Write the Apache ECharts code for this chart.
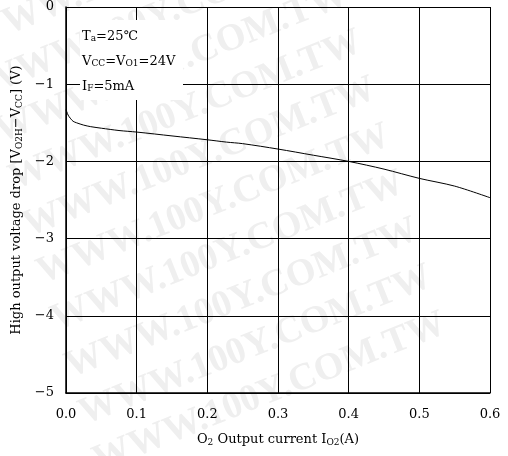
<!DOCTYPE html>
<html><head><meta charset="utf-8">
<script src="https://cdn.jsdelivr.net/npm/echarts@6/dist/echarts.min.js"></script>
<style>html,body{margin:0;padding:0;background:#fff}#c{width:508px;height:456px}</style>
</head><body><div id="c"></div>
<script>
const currentA = [0, 0.003, 0.006, 0.01, 0.015, 0.025, 0.035, 0.05, 0.075, 0.1, 0.15, 0.2, 0.227, 0.25, 0.3, 0.35, 0.4, 0.45, 0.5, 0.55, 0.6];
const dropV   = [-1.33, -1.40, -1.44, -1.48, -1.50, -1.53, -1.55, -1.57, -1.60, -1.62, -1.67, -1.72, -1.75, -1.77, -1.84, -1.92, -2.00, -2.10, -2.22, -2.32, -2.47];
const xTicks = ['0.0','0.1','0.2','0.3','0.4','0.5','0.6'];
const yTicks = ['−5','−4','−3','−2','−1','0'];
const notes = ['{n|T}{s|a}{n|=25℃}', '{n|V}{s|CC}{n|=V}{s|O1}{n|=24V}', '{n|I}{s|F}{n|=5mA}'];
const watermark = 'WWW.100Y.COM.TW';

const F = 'DejaVu Serif';
const rich = {
  n: {fontFamily: F, fontSize: 13, color: '#000'},
  s: {fontFamily: F, fontSize: 9, color: '#000', verticalAlign: 'bottom', padding: [5, 0, 0, 0]}
};
const wm = [];
for (let k = -6; k <= 3; k++) {
  wm.push({type: 'text', x: 60 + 14 * k, y: 339 + 47 * k, rotation: 0.38, z: -10, silent: true,
    style: {text: watermark, fontFamily: 'Liberation Serif', fontWeight: 'bold', fontSize: 38,
      fill: '#efefef', textAlign: 'left', textVerticalAlign: 'bottom'}});
}
const chart = echarts.init(document.getElementById('c'), null, {renderer: 'canvas'});
chart.setOption({
  animation: false,
  backgroundColor: '#fff',
  grid: {left: 66, right: 18, top: 7, bottom: 63},
  xAxis: {
    type: 'value', min: 0, max: 0.6, interval: 0.1,
    axisLine: {show: true, onZero: false, lineStyle: {color: '#000', width: 1.5}},
    axisTick: {show: false},
    splitLine: {show: true, lineStyle: {color: '#000', width: 1}},
    axisLabel: {fontFamily: F, fontSize: 13, color: '#000', margin: 15,
      formatter: v => xTicks[Math.round(v * 10)]},
    name: '{n|O}{s|2}{n| Output current I}{s|O2}{n|(A)}',
    nameLocation: 'middle', nameGap: 40,
    nameTextStyle: {rich: rich}
  },
  yAxis: {
    type: 'value', min: -5, max: 0, interval: 1,
    axisLine: {show: true, onZero: false, lineStyle: {color: '#000', width: 1.5}},
    axisTick: {show: false},
    splitLine: {show: true, lineStyle: {color: '#000', width: 1}},
    axisLabel: {fontFamily: F, fontSize: 13, color: '#000', margin: 12,
      formatter: v => yTicks[Math.round(v) + 5]},
    name: '{n|High output voltage drop [V}{s|O2H}{n|−V}{s|CC}{n|] (V)}',
    nameLocation: 'middle', nameGap: 40, nameRotate: 90,
    nameTextStyle: {rich: rich}
  },
  series: [{
    type: 'line', data: currentA.map((x, i) => [x, dropV[i]]),
    smooth: 0.3, showSymbol: false,
    lineStyle: {color: '#000', width: 1}
  }],
  graphic: wm.concat([
    {type: 'rect', left: 80, top: 20, shape: {width: 103, height: 80}, style: {fill: '#fff'}, z: 10},
    {type: 'text', left: 82, top: 30, z: 11, style: {text: notes[0], rich: rich}},
    {type: 'text', left: 82, top: 55, z: 11, style: {text: notes[1], rich: rich}},
    {type: 'text', left: 82, top: 80, z: 11, style: {text: notes[2], rich: rich}}
  ])
});
</script></body></html>
